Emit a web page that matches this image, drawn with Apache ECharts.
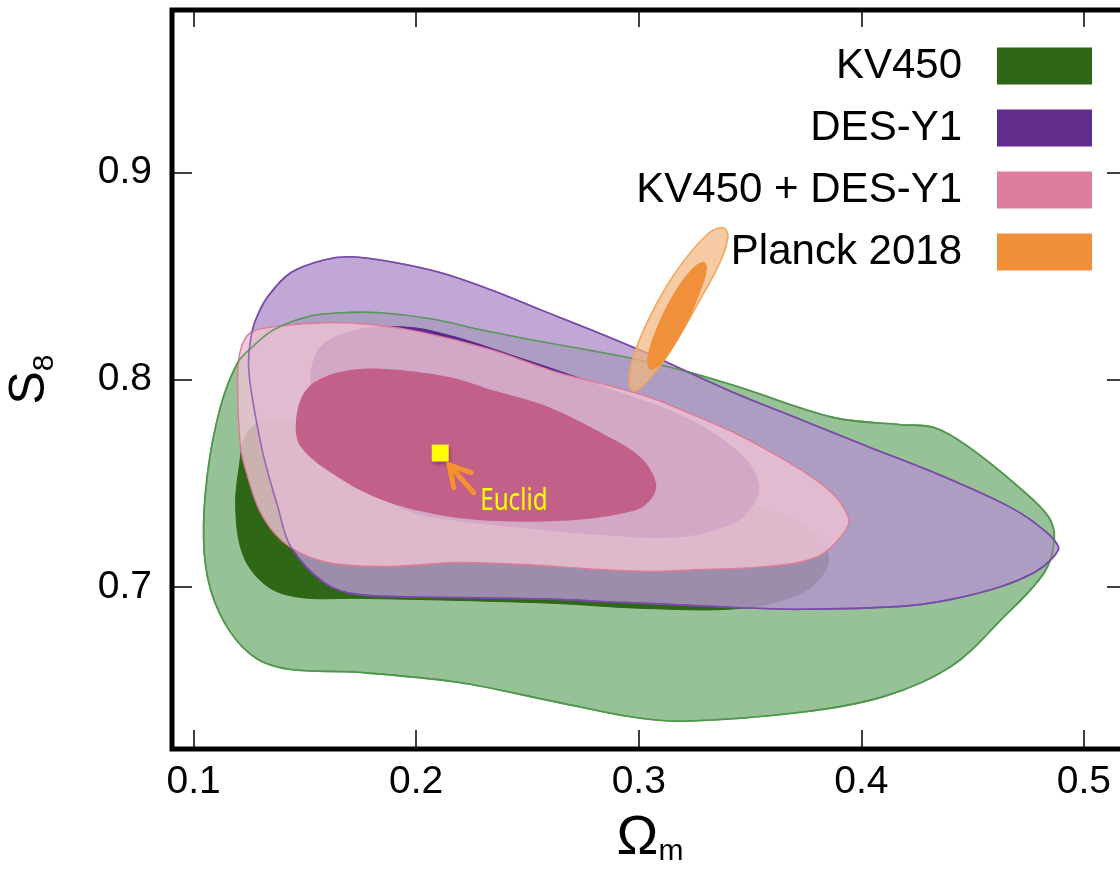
<!DOCTYPE html>
<html>
<head>
<meta charset="utf-8">
<script src="https://cdn.jsdelivr.net/npm/echarts@6/dist/echarts.min.js"></script>
<style>html,body{margin:0;padding:0;background:#fff}#c{width:1120px;height:873px}</style>
</head>
<body>
<div id="c"></div>
<script>
// ---- data (Omega_m, S8) ----
const KV450_95 = [[0.1265,0.8159],[0.1360,0.8241],[0.1513,0.8304],[0.1661,0.8323],[0.1841,0.8323],[0.2066,0.8294],[0.2290,0.8241],[0.2515,0.8193],[0.2740,0.8149],[0.2978,0.8101],[0.3235,0.8034],[0.3460,0.7961],[0.3878,0.7817],[0.4179,0.7783],[0.4327,0.7769],[0.4480,0.7677],[0.4705,0.7484],[0.4840,0.7340],[0.4867,0.7229],[0.4822,0.7070],[0.4629,0.6843],[0.4404,0.6617],[0.4103,0.6472],[0.3729,0.6395],[0.3203,0.6352],[0.2978,0.6371],[0.2637,0.6443],[0.2187,0.6540],[0.1737,0.6588],[0.1436,0.6602],[0.1288,0.6651],[0.1166,0.6781],[0.1076,0.6988],[0.1045,0.7229],[0.1063,0.7552],[0.1121,0.7870],[0.1198,0.8082]];
const KV450_68 = [[0.1225,0.7711],[0.1211,0.7629],[0.1189,0.7388],[0.1225,0.7147],[0.1333,0.7002],[0.1481,0.6949],[0.1737,0.6945],[0.2187,0.6935],[0.2637,0.6920],[0.3010,0.6897],[0.3460,0.6897],[0.3729,0.6969],[0.3842,0.7084],[0.3846,0.7181],[0.3797,0.7253],[0.3639,0.7349],[0.3280,0.7470],[0.2830,0.7590],[0.2380,0.7687],[0.1931,0.7759],[0.1481,0.7807],[0.1279,0.7783]];
const DES_95 = [[0.1247,0.8063],[0.1256,0.8193],[0.1279,0.8289],[0.1333,0.8400],[0.1436,0.8516],[0.1585,0.8578],[0.1706,0.8593],[0.1886,0.8569],[0.2111,0.8516],[0.2335,0.8434],[0.2560,0.8337],[0.2785,0.8241],[0.3055,0.8120],[0.3131,0.8082],[0.3428,0.7937],[0.3729,0.7807],[0.4031,0.7677],[0.4327,0.7552],[0.4629,0.7407],[0.4777,0.7311],[0.4885,0.7195],[0.4853,0.7133],[0.4777,0.7070],[0.4629,0.7002],[0.4404,0.6940],[0.4179,0.6906],[0.3729,0.6892],[0.3428,0.6901],[0.3131,0.6916],[0.2830,0.6930],[0.2637,0.6940],[0.2187,0.6949],[0.1737,0.6964],[0.1585,0.7022],[0.1436,0.7195],[0.1378,0.7388],[0.1315,0.7629],[0.1265,0.7904]];
const DES_68 = [[0.1526,0.8000],[0.1540,0.8096],[0.1580,0.8169],[0.1661,0.8217],[0.1796,0.8251],[0.1989,0.8251],[0.2156,0.8212],[0.2290,0.8169],[0.2425,0.8120],[0.2650,0.8039],[0.2875,0.7952],[0.3131,0.7855],[0.3325,0.7749],[0.3482,0.7614],[0.3536,0.7508],[0.3527,0.7422],[0.3437,0.7316],[0.3190,0.7243],[0.2830,0.7253],[0.2470,0.7287],[0.2156,0.7325],[0.1976,0.7364],[0.1764,0.7484],[0.1616,0.7639],[0.1549,0.7807]];
const COMB_95 = [[0.1211,0.8145],[0.1256,0.8227],[0.1360,0.8255],[0.1585,0.8275],[0.1809,0.8265],[0.2034,0.8227],[0.2335,0.8145],[0.2637,0.8034],[0.2830,0.7981],[0.3055,0.7913],[0.3190,0.7855],[0.3428,0.7745],[0.3653,0.7614],[0.3851,0.7470],[0.3941,0.7340],[0.3923,0.7263],[0.3806,0.7147],[0.3581,0.7099],[0.3280,0.7084],[0.3055,0.7075],[0.2830,0.7084],[0.2484,0.7108],[0.2187,0.7118],[0.1886,0.7099],[0.1661,0.7108],[0.1513,0.7147],[0.1391,0.7229],[0.1301,0.7359],[0.1247,0.7518],[0.1211,0.7677],[0.1198,0.8000]];
const COMB_68 = [[0.1459,0.7773],[0.1481,0.7904],[0.1540,0.7986],[0.1661,0.8039],[0.1841,0.8053],[0.2142,0.8014],[0.2335,0.7952],[0.2592,0.7870],[0.2888,0.7711],[0.3010,0.7624],[0.3064,0.7542],[0.3077,0.7470],[0.3032,0.7398],[0.2965,0.7364],[0.2740,0.7325],[0.2439,0.7316],[0.2142,0.7340],[0.1841,0.7422],[0.1616,0.7552],[0.1481,0.7677]];
const PLANCK_95 = [[0.3379,0.8733],[0.3401,0.8694],[0.3370,0.8578],[0.3280,0.8395],[0.3131,0.8120],[0.3023,0.7976],[0.2974,0.7947],[0.2956,0.8000],[0.2986,0.8145],[0.3077,0.8361],[0.3189,0.8554],[0.3315,0.8708]];
const PLANCK_68 = [[0.3289,0.8569],[0.3307,0.8540],[0.3280,0.8434],[0.3212,0.8265],[0.3109,0.8087],[0.3055,0.8048],[0.3037,0.8096],[0.3077,0.8241],[0.3154,0.8410],[0.3235,0.8530]];
const EUCLID = [[0.2108, 0.7646]];
const EUCLID_LABEL = 'Euclid';
const xTicks = [0.1, 0.2, 0.3, 0.4, 0.5];
const yTicks = [0.7, 0.8, 0.9];
const legendNames = ['KV450', 'DES-Y1', 'KV450 + DES-Y1', 'Planck 2018'];

// ---- styles ----
const FONT = 'Liberation Sans';
const legendColors = ['#2e6516', '#622c8c', '#dc7e9c', '#f08f3a'];
const SMOOTH = 0.35;
const X_MIN = 0.0903, X_MAX = 0.5198, Y_MIN = 0.6218, Y_MAX = 0.9784;

function contourSeries(name, levels, legendColor) {
  return {
    type: 'custom', name: name, silent: true, animation: false,
    itemStyle: { color: legendColor },
    data: levels.map(l => l.pts[0]),
    renderItem: function (params, api) {
      const l = levels[params.dataIndex];
      const pts = l.pts.map(p => api.coord(p));
      return {
        type: 'polygon',
        shape: { points: pts, smooth: SMOOTH },
        style: { fill: l.fill, stroke: l.stroke || null, lineWidth: l.lw || 0, opacity: 1 }
      };
    }
  };
}
function outlineSeries(pts, stroke, lw) {
  return {
    type: 'custom', silent: true, animation: false,
    data: [pts[0]],
    renderItem: function (params, api) {
      return {
        type: 'polygon',
        shape: { points: pts.map(p => api.coord(p)), smooth: SMOOTH },
        style: { fill: null, stroke: stroke, lineWidth: lw }
      };
    }
  };
}

const chart = echarts.init(document.getElementById('c'), null, { renderer: 'canvas' });
const option = {
  animation: false,
  backgroundColor: '#fff',
  grid: { left: 172, top: 10, width: 956, height: 739, outerBoundsMode: 'none', containLabel: false,
          show: true, borderColor: '#000', borderWidth: 5 },
  legend: {
    data: legendNames, orient: 'vertical', right: 23, top: 40, align: 'right',
    itemWidth: 95, itemHeight: 37, itemGap: 20, icon: 'rect', selectedMode: false,
    textStyle: { fontFamily: FONT, fontSize: 42, color: '#000', lineHeight: 37, padding: [0, 30, 0, 0] }
  },
  xAxis: [{
    type: 'value', min: X_MIN, max: X_MAX, position: 'bottom',
    axisLine: { show: false }, splitLine: { show: false },
    axisTick: { inside: true, length: 19, lineStyle: { color: '#000', width: 1.5 }, customValues: xTicks },
    axisLabel: { customValues: xTicks, formatter: v => v.toFixed(1), fontFamily: FONT, fontSize: 39, color: '#000', margin: 14 },
    name: '{a|Ω}{b|m}', nameLocation: 'middle', nameGap: 62,
    nameTextStyle: { rich: {
      a: { fontFamily: FONT, fontSize: 56, color: '#000', verticalAlign: 'bottom' },
      b: { fontFamily: FONT, fontSize: 30, color: '#000', verticalAlign: 'bottom' }
    } }
  }, {
    type: 'value', min: X_MIN, max: X_MAX, position: 'top',
    axisLine: { show: false }, splitLine: { show: false },
    axisTick: { inside: true, length: 17, lineStyle: { color: '#000', width: 1.5 }, customValues: xTicks },
    axisLabel: { show: false }
  }],
  yAxis: [{
    type: 'value', min: Y_MIN, max: Y_MAX, position: 'left',
    axisLine: { show: false }, splitLine: { show: false },
    axisTick: { inside: true, length: 20, lineStyle: { color: '#000', width: 1.5 }, customValues: yTicks },
    axisLabel: { customValues: yTicks, formatter: v => v.toFixed(1), fontFamily: FONT, fontSize: 39, color: '#000', margin: 20 },
    name: '{a|S}{b|8}', nameLocation: 'middle', nameRotate: 90, nameGap: 112,
    nameTextStyle: { rich: {
      a: { fontFamily: FONT, fontSize: 50, color: '#000', verticalAlign: 'bottom', padding: [0, 0, 5, 0] },
      b: { fontFamily: FONT, fontSize: 30, color: '#000', verticalAlign: 'bottom' }
    } }
  }, {
    type: 'value', min: Y_MIN, max: Y_MAX, position: 'right',
    axisLine: { show: false }, splitLine: { show: false },
    axisTick: { inside: true, length: 21, lineStyle: { color: '#000', width: 1.5 }, customValues: yTicks },
    axisLabel: { show: false }
  }],
  series: [
    contourSeries('KV450', [
      { pts: KV450_95, fill: '#97c196', stroke: '#4f9a4a', lw: 1.6 },
      { pts: KV450_68, fill: '#2e6716', stroke: '#2e6716', lw: 1 }
    ], legendColors[0]),
    contourSeries('DES-Y1', [
      { pts: DES_95, fill: 'rgba(179,149,205,0.83)', stroke: '#7b4aa9', lw: 1.6 },
      { pts: DES_68, fill: '#5b2a8e', stroke: '#5b2a8e', lw: 1 }
    ], legendColors[1]),
    contourSeries('KV450 + DES-Y1', [
      { pts: COMB_95, fill: 'rgba(236,194,209,0.83)', stroke: '#e07a96', lw: 1.4 },
      { pts: COMB_68, fill: 'rgba(192,88,131,0.9)', stroke: null, lw: 0 }
    ], legendColors[2]),
    outlineSeries(KV450_95, 'rgba(79,150,74,0.85)', 1.6),
    outlineSeries(DES_95, 'rgba(123,74,169,0.7)', 1.6),
    contourSeries('Planck 2018', [
      { pts: PLANCK_95, fill: 'rgba(243,182,126,0.72)', stroke: '#f2a45a', lw: 1.5 },
      { pts: PLANCK_68, fill: '#f0903a', stroke: null, lw: 0 }
    ], legendColors[3]),
    {
      type: 'custom', name: 'Euclid', silent: true, animation: false,
      data: EUCLID,
      renderItem: function (params, api) {
        const p = api.coord([api.value(0), api.value(1)]);
        return {
          type: 'group', children: [
            { type: 'rect', shape: { x: p[0] - 8.5, y: p[1] - 8.5, width: 17, height: 17 },
              style: { fill: '#ffff00', shadowBlur: 4, shadowColor: 'rgba(120,40,60,0.6)', shadowOffsetX: 1, shadowOffsetY: 2 } },
            { type: 'polyline', shape: { points: [[p[0] + 33.5, p[1] + 39.5], [p[0] + 9.5, p[1] + 12.5]] },
              style: { stroke: '#f5922e', lineWidth: 5, fill: null, lineCap: 'round' } },
            { type: 'polyline', shape: { points: [[p[0] + 13.5, p[1] + 34.5], [p[0] + 9, p[1] + 12], [p[0] + 31, p[1] + 19.5]] },
              style: { stroke: '#f5922e', lineWidth: 5, fill: null, lineCap: 'round', lineJoin: 'miter' } },
            { type: 'text', x: p[0] + 40, y: p[1] + 48, scaleX: 0.78,
              style: { text: EUCLID_LABEL, x: 0, y: 0, fill: '#ffff00', fontSize: 31, fontFamily: 'Noto Sans',
                       align: 'left', verticalAlign: 'middle',
                       shadowBlur: 2, shadowColor: 'rgba(120,40,60,0.5)', shadowOffsetY: 1 } }
          ]
        };
      }
    }
  ]
};
chart.setOption(option);
</script>
</body>
</html>
